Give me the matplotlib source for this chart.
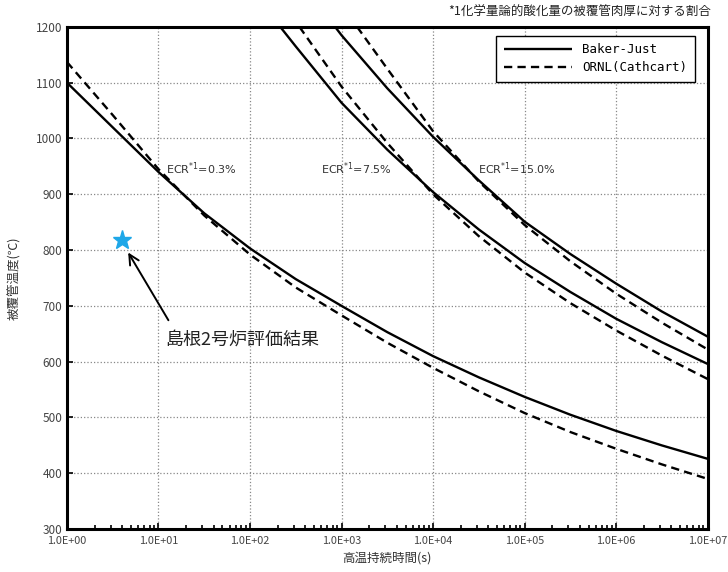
import matplotlib
matplotlib.use("Agg")
import matplotlib.pyplot as plt
from matplotlib.ticker import LogLocator, FixedLocator, NullFormatter

plt.rcParams['font.family'] = ['Noto Sans CJK JP', 'DejaVu Sans']

# 時間 (s) — 半デカードごとの読み取り点
t_grid = [1, 3.16, 10, 31.6, 100, 316, 1000, 3160, 1e4, 3.16e4, 1e5, 3.16e5, 1e6, 3.16e6, 1e7]

# ECR 0.3%
bj_03 = [1100, 1020, 940, 866, 803, 748, 700, 653, 610, 572, 537, 505, 476, 450, 426]
ornl_03 = [1137, 1042, 945, 862, 792, 733, 683, 634, 589, 547, 508, 474, 444, 416, 390]

# ECR 7.5%  (上端 1200℃ から)
t_bj_75 = [214, 316, 1000, 3160, 1e4, 3.16e4, 1e5, 3.16e5, 1e6, 3.16e6, 1e7]
bj_75 = [1200, 1165, 1064, 980, 904, 837, 777, 725, 677, 635, 596]
t_ornl_75 = [347, 1000, 3160, 1e4, 3.16e4, 1e5, 3.16e5, 1e6, 3.16e6, 1e7]
ornl_75 = [1200, 1093, 992, 900, 825, 760, 705, 656, 611, 569]

# ECR 15.0%
t_bj_15 = [851, 1000, 3160, 1e4, 3.16e4, 1e5, 3.16e5, 1e6, 3.16e6, 1e7]
bj_15 = [1200, 1185, 1090, 1003, 925, 851, 793, 740, 690, 645]
t_ornl_15 = [1480, 3160, 1e4, 3.16e4, 1e5, 3.16e5, 1e6, 3.16e6, 1e7]
ornl_15 = [1200, 1125, 1013, 923, 845, 780, 722, 670, 622]

# 島根2号炉評価結果
shimane_t = 4.0
shimane_T = 818

ecr_labels = ["0.3", "7.5", "15.0"]
ecr_label_t = [12, 600, 31000]
x_ticks = [1e0, 1e1, 1e2, 1e3, 1e4, 1e5, 1e6, 1e7]
x_ticklabels = ["1.0E+00", "1.0E+01", "1.0E+02", "1.0E+03", "1.0E+04", "1.0E+05", "1.0E+06", "1.0E+07"]
y_ticks = list(range(300, 1201, 100))

fig = plt.figure(figsize=(7.28, 5.72), dpi=100)
ax = fig.add_axes([0.092, 0.075, 0.880, 0.878])

solid = dict(color='black', lw=1.7, solid_capstyle='butt')
dash = dict(color='black', lw=1.7, linestyle=(0, (3.5, 2.2)))

ax.plot(t_grid, bj_03, label='Baker-Just', **solid)
ax.plot(t_grid, ornl_03, label='ORNL(Cathcart)', **dash)
ax.plot(t_bj_75, bj_75, **solid)
ax.plot(t_ornl_75, ornl_75, **dash)
ax.plot(t_bj_15, bj_15, **solid)
ax.plot(t_ornl_15, ornl_15, **dash)

ax.set_xscale('log')
ax.set_xlim(1, 1e7)
ax.set_ylim(300, 1200)
ax.xaxis.set_major_locator(FixedLocator(x_ticks))
ax.set_xticklabels(x_ticklabels)
ax.xaxis.set_minor_locator(LogLocator(base=10, subs=range(2, 10), numticks=20))
ax.xaxis.set_minor_formatter(NullFormatter())
ax.set_yticks(y_ticks)

ax.grid(True, which='major', color='#888888', linestyle=':', lw=0.9)
ax.tick_params(which='both', direction='in', colors='black', labelcolor='#444444',
               labelsize=8.5, width=1.2)
ax.tick_params(axis='x', labelsize=7.8, pad=5)
ax.tick_params(which='major', length=4)
ax.tick_params(which='minor', length=3)
for s in ax.spines.values():
    s.set_linewidth(2.2)

for lab, tx in zip(ecr_labels, ecr_label_t):
    ax.text(tx, 945, "ECR$^{*1}$=" + lab + "%", fontsize=8, color='#333333',
            va='center', ha='left', family='DejaVu Sans')

ax.plot([shimane_t], [shimane_T], marker='*', color='#1ea7e8', markersize=14,
        linestyle='none', zorder=5)
ax.annotate('', xy=(4.5, 800), xytext=(13.3, 670),
            arrowprops=dict(arrowstyle='->', color='black', lw=1.4,
                            mutation_scale=18))
ax.text(83, 639, "島根2号炉評価結果", fontsize=13, ha='center', va='center',
        color='#222222')

leg = ax.legend(loc='upper right', bbox_to_anchor=(0.99, 0.995), frameon=True,
                fancybox=False, edgecolor='black', framealpha=1,
                prop={'family': 'DejaVu Sans Mono', 'size': 9},
                handlelength=5.5, borderpad=0.6, labelspacing=0.4)
leg.get_frame().set_linewidth(1.0)

ax.set_xlabel("高温持続時間(s)", fontsize=9, color='#333333', labelpad=4)
ax.set_ylabel("被覆管温度(℃)", fontsize=9, color='#333333', labelpad=10)

fig.text(0.977, 0.978, "*1化学量論的酸化量の被覆管肉厚に対する割合", fontsize=9,
         ha='right', va='center', color='#222222')

fig.savefig("out.png", dpi=100)
